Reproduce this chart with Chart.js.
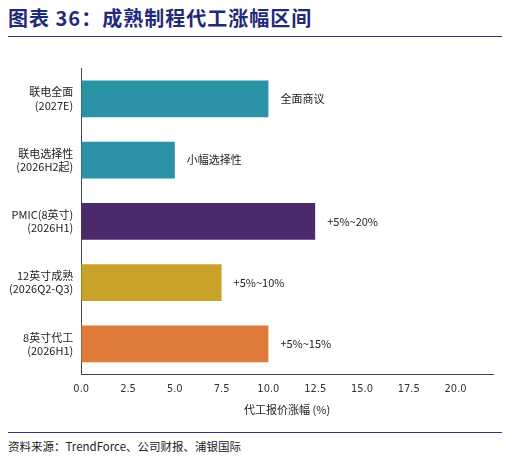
<!DOCTYPE html>
<html><head><meta charset="utf-8">
<script src="https://cdn.jsdelivr.net/npm/chart.js@4"></script>
<style>
html,body{margin:0;padding:0;background:#fff;width:509px;height:462px;overflow:hidden;font-family:"Noto Sans CJK SC",sans-serif}
#title{position:absolute;left:8px;top:3px;font-size:20px;font-weight:bold;color:#1f2a7a;letter-spacing:1px}
#line{position:absolute;left:8px;top:36px;width:494px;height:1px;background:#3b2f7e}
#wrap{position:absolute;left:0;top:52px;width:509px;height:368px}
#foot{position:absolute;left:8px;top:438px;font-size:11.5px;color:#222}
#foot2{position:absolute;left:8px;top:432px;width:494px;height:1px;background:#3b2f7e}
</style></head><body>
<div id="title">图表 36：成熟制程代工涨幅区间</div>
<div id="line"></div>
<div id="wrap"><canvas id="c"></canvas></div>
<div id="foot2"></div>
<div id="foot">资料来源：TrendForce、公司财报、浦银国际</div>
<script>
const categories=[["联电全面","(2027E)"],["联电选择性","(2026H2起)"],["PMIC(8英寸)","(2026H1)"],["12英寸成熟","(2026Q2-Q3)"],["8英寸代工","(2026H1)"]];
const values=[10,5,12.5,7.5,10];
const notes=["全面商议","小幅选择性","+5%~20%","+5%~10%","+5%~15%"];
const colors=["#2b93a6","#2b93a6","#4b2a6b","#c9a22a","#e07a3a"];
const tickValues=[0,2.5,5,7.5,10,12.5,15,17.5,20];
const notePlugin={id:'notes',afterDatasetsDraw(ch){const ctx=ch.ctx;const m=ch.getDatasetMeta(0);ctx.save();ctx.font='11px "Noto Sans CJK SC"';ctx.fillStyle='#222';ctx.textBaseline='middle';m.data.forEach((b,i)=>{ctx.fillText(notes[i],b.x+12,b.y);});ctx.restore();}};
new Chart(document.getElementById('c'),{type:'bar',data:{labels:categories,datasets:[{data:values,backgroundColor:colors,barPercentage:0.6,categoryPercentage:1}]},
options:{indexAxis:'y',responsive:true,maintainAspectRatio:false,animation:false,layout:{padding:{left:6,right:16,top:6,bottom:0}},
plugins:{legend:{display:false},tooltip:{enabled:false}},
scales:{x:{min:0,max:22,afterBuildTicks(a){a.ticks=tickValues.map(v=>({value:v}));},grid:{display:false,drawTicks:true,tickLength:5},border:{color:'#444'},ticks:{color:'#333',font:{size:11,family:'DejaVu Sans Condensed'},callback:v=>v.toFixed(1)},title:{display:true,text:'代工报价涨幅 (%)',color:'#222',font:{size:11,family:'Noto Sans CJK SC'}}},
y:{grid:{display:false,tickLength:5},border:{color:'#444'},ticks:{color:'#222',font:{size:11,family:'Noto Sans CJK SC'}}}}},plugins:[notePlugin]});
</script></body></html>
